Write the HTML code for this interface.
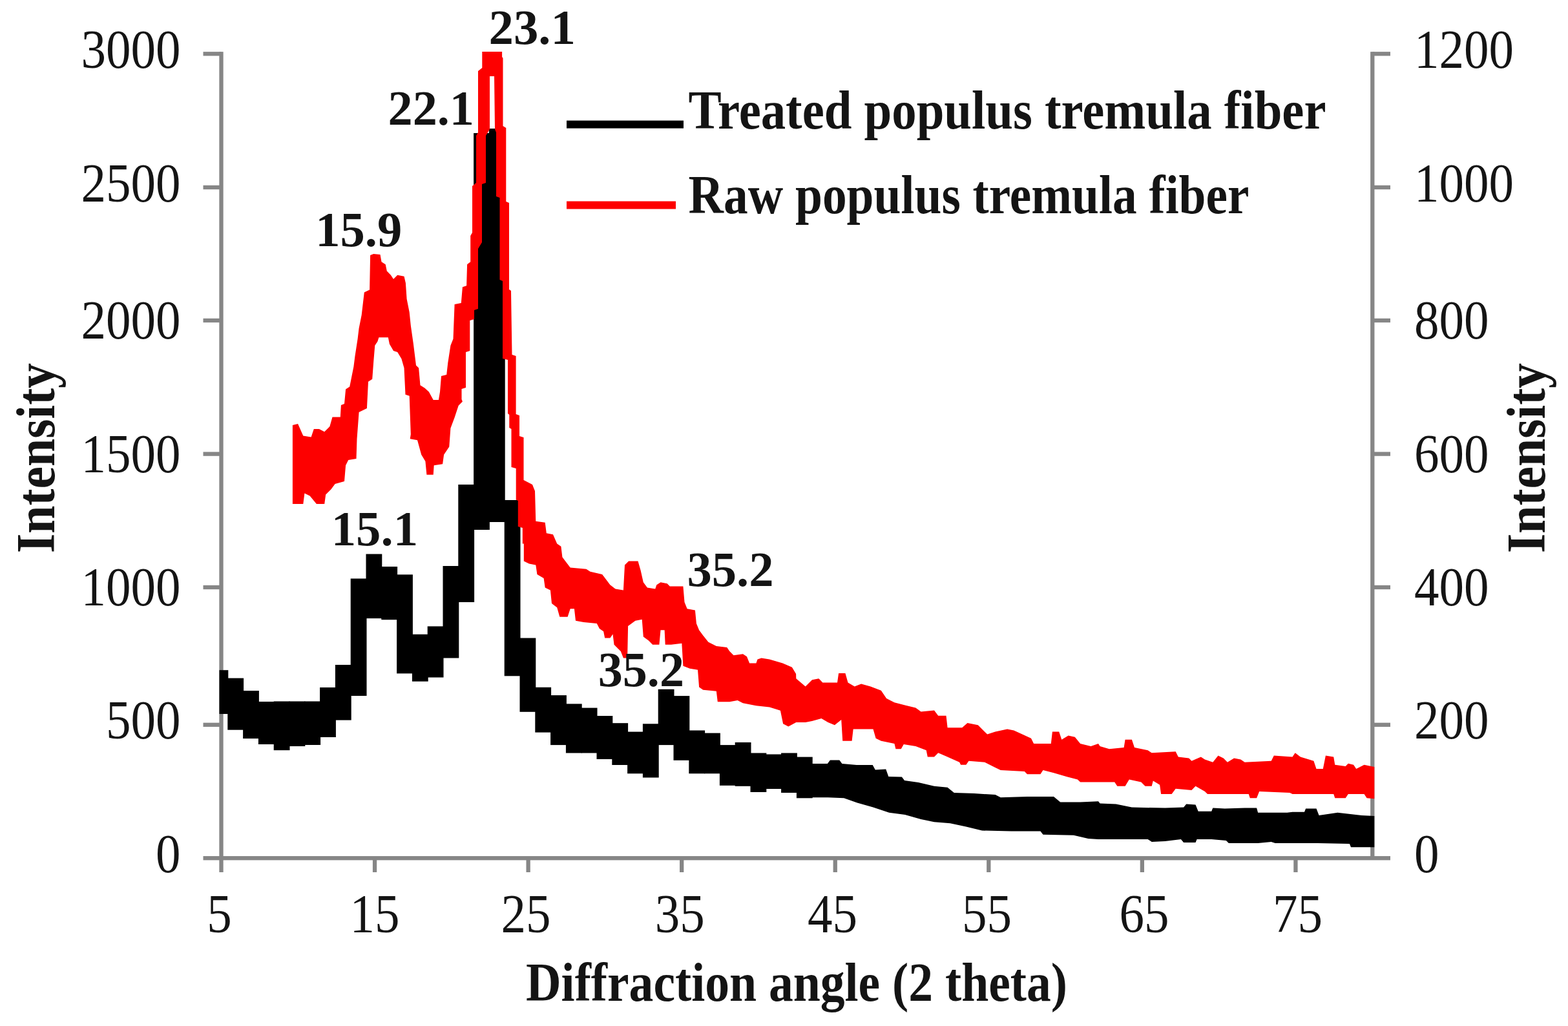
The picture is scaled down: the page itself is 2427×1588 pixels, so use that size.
<!DOCTYPE html>
<html lang="en">
<head>
<meta charset="utf-8">
<title>XRD patterns of raw and treated populus tremula fiber</title>
<style>
html,body{margin:0;padding:0;background:#fff;}
body{width:2427px;height:1588px;overflow:hidden;}
svg{display:block;}
</style>
</head>
<body>
<svg width="2427" height="1588" viewBox="0 0 2427 1588">
<rect width="2427" height="1588" fill="#fff"/>
<g fill="#868686"><rect x="339.35" y="80.15" width="6.3" height="1269.85"/><rect x="2121.15" y="80.15" width="6.3" height="1248.05"/><rect x="314.5" y="1325.05" width="1837.5" height="6.3"/><rect x="314.5" y="80.15" width="28" height="6.3"/><rect x="2124.3" y="80.15" width="27.7" height="6.3"/><rect x="314.5" y="286.85" width="28" height="6.3"/><rect x="2124.3" y="286.85" width="27.7" height="6.3"/><rect x="314.5" y="492.85" width="28" height="6.3"/><rect x="2124.3" y="492.85" width="27.7" height="6.3"/><rect x="314.5" y="699.45" width="28" height="6.3"/><rect x="2124.3" y="699.45" width="27.7" height="6.3"/><rect x="314.5" y="905.85" width="28" height="6.3"/><rect x="2124.3" y="905.85" width="27.7" height="6.3"/><rect x="314.5" y="1118.65" width="28" height="6.3"/><rect x="2124.3" y="1118.65" width="27.7" height="6.3"/><rect x="576.91" y="1328.2" width="6.3" height="21.8"/><rect x="814.47" y="1328.2" width="6.3" height="21.8"/><rect x="1052.03" y="1328.2" width="6.3" height="21.8"/><rect x="1289.59" y="1328.2" width="6.3" height="21.8"/><rect x="1527.15" y="1328.2" width="6.3" height="21.8"/><rect x="1764.71" y="1328.2" width="6.3" height="21.8"/><rect x="2002.27" y="1328.2" width="6.3" height="21.8"/></g>
<g fill="#000"><rect x="339.5" y="1037.2" width="13.8" height="67.8"/><rect x="352.3" y="1049.6" width="24.8" height="80.1"/><rect x="376.1" y="1069.1" width="24.8" height="74"/><rect x="399.9" y="1086" width="24.8" height="66"/><rect x="423.7" y="1085.5" width="24.8" height="75.7"/><rect x="447.5" y="1085.5" width="24.8" height="69.5"/><rect x="471.3" y="1085.5" width="24.8" height="67.5"/><rect x="495.1" y="1064" width="24.8" height="77"/><rect x="518.9" y="1029" width="24.8" height="85.6"/><rect x="542.7" y="895.5" width="24.8" height="181.5"/><rect x="566.5" y="857.5" width="24.8" height="99.6"/><rect x="590.3" y="877" width="24.8" height="82.2"/><rect x="614.1" y="889.3" width="24.8" height="153.1"/><rect x="637.9" y="981.8" width="24.8" height="72.9"/><rect x="661.7" y="969.4" width="24.8" height="79.1"/><rect x="685.5" y="876" width="24.8" height="142.5"/><rect x="709.3" y="750" width="24.8" height="182"/><rect x="733.1" y="206" width="24.8" height="614"/><rect x="756.9" y="199" width="24.8" height="609"/><rect x="780.7" y="774" width="24.8" height="272.3"/><rect x="804.5" y="987.5" width="24.8" height="114.3"/><rect x="828.3" y="1063.8" width="24.8" height="69.8"/><rect x="852.1" y="1076.1" width="24.8" height="77"/><rect x="875.9" y="1089.4" width="24.8" height="76.1"/><rect x="899.7" y="1095.6" width="24.8" height="69.9"/><rect x="923.5" y="1108" width="24.8" height="67"/><rect x="947.3" y="1119.2" width="24.8" height="64.8"/><rect x="971.1" y="1132.6" width="24.8" height="64.7"/><rect x="994.9" y="1120.3" width="24.8" height="83.2"/><rect x="1018.7" y="1066.8" width="24.8" height="86.3"/><rect x="1042.5" y="1077.1" width="24.8" height="99.7"/><rect x="1066.3" y="1130.5" width="24.8" height="66.8"/><rect x="1090.1" y="1134.6" width="24.8" height="62.7"/><rect x="1113.9" y="1153.1" width="24.8" height="62.7"/><rect x="1137.7" y="1149" width="24.8" height="67.8"/><rect x="1161.5" y="1165.5" width="24.8" height="60.5"/><rect x="1185.3" y="1167.5" width="24.8" height="53.5"/><rect x="1209.1" y="1165.5" width="24.8" height="61.5"/><rect x="1232.9" y="1171.6" width="24.8" height="63.7"/><polygon points="1252.9,1177.3 1256.2,1182 1280.8,1182 1284.9,1176.4 1299.3,1176.4 1303.4,1182 1326,1184 1350.7,1184 1354.8,1191.6 1371.2,1190.6 1375.3,1201.9 1395.9,1202.5 1400,1208.1 1421.4,1211 1446,1216.7 1466.6,1218.8 1476.8,1227 1507.7,1228 1540.5,1230.1 1548.8,1234.2 1589.9,1233.1 1631,1233.1 1641.2,1241.4 1672.1,1241.4 1700,1240.3 1702.6,1243.4 1727.3,1244.5 1751.9,1249.6 1803.3,1250.6 1832.1,1249.6 1836.2,1244.5 1850.5,1245.5 1854.7,1255.8 1875.2,1255.8 1877.3,1250.6 1895.8,1251.6 1926.6,1250.6 1945.1,1250.6 1947.1,1257.8 1992.3,1257.8 2000.5,1256.8 2019,1256.8 2021.1,1251.6 2037.5,1251.6 2041.6,1261.9 2070.4,1257.8 2107.4,1261.9 2127.3,1262.9 2127.3,1311.2 2091,1311.2 2088.9,1306.1 2039.6,1305.1 1973.8,1305.1 1967.7,1303 1947.1,1305.1 1901.9,1305.1 1897.8,1301 1875.2,1298.9 1852.6,1298.9 1850.5,1304 1832.1,1304 1827.9,1298.9 1803.3,1302 1782.7,1303 1776.6,1298.9 1700,1298.9 1684.4,1297.9 1661.8,1292.7 1614.5,1291.7 1610.4,1286.6 1565.2,1286.6 1520,1285.5 1495.3,1279.4 1470.7,1274.2 1446,1272.2 1425.5,1268.1 1400.8,1260.9 1376.2,1257.8 1351.5,1249.6 1326.8,1242.4 1306.3,1235.2 1281.6,1234.2 1252.9,1234.2"/></g>
<polygon fill="#fd0000" points="452.9,657.9 461.1,655.9 469.3,674.4 481.6,676.4 485.8,664.1 494,664.1 502.2,668.2 510.4,660 514.5,645.6 526.8,645.6 527.9,627.1 533,625.1 535.1,602.5 541.2,598.4 543.3,588.1 547.4,567.5 549.5,551.1 553.6,524.4 555.6,507.9 559.7,487.4 563.8,452.5 572.1,448.4 573.1,394.9 578.2,392.9 588.5,393.9 590.5,405.2 596.7,409.3 598.8,419.6 604.9,425.8 609,431.9 615.2,425.8 625.5,427.8 627.9,438.1 629.6,462.7 633.7,483.3 635.8,503.8 639.9,532.6 644,565.5 648.1,569.6 650.5,596.3 657.3,600.4 663.9,606.6 670.7,618.9 678.9,618.9 681,606.6 683,581.9 691.2,579.9 693.3,561.4 697.4,534.7 701.5,524.4 703.6,471 713.8,468.9 715.9,444.2 722.1,442.2 723.1,409.3 728.2,405.2 728.2,365 731,360 731,288 737,283 737,210 740,205 740,110 746.3,105 746.3,80 777.1,80 777.1,88 778.5,90 778.5,195 783.3,198 783.3,312 788,314 788,448 791,450 792.5,549 798.6,551 798.6,641 804,643 804,675 810.5,677 810.5,743 824,750 828,760 829.3,806.7 843.7,808.8 845.8,825.2 856,827.3 862.2,841.6 868.4,845.8 870.4,862.2 876.6,870.4 882.7,878.6 907.4,880.7 913.6,884.8 932.1,888.9 938.2,897.1 944.4,905.3 952.6,911.5 964.9,913.6 967,874.5 973.1,868.4 987.5,868.4 991.6,882.7 995.8,901.2 1001.9,909.5 1014.2,911.5 1016.3,905.3 1022.5,901.2 1032.7,903.3 1036.8,907.4 1057.4,907.4 1059.5,932.1 1063.6,942.3 1075.9,944.4 1077.9,964.9 1082.1,975.2 1088.2,983.4 1096.4,993.7 1108.8,999.9 1125.2,1001.9 1129.3,1008.1 1135.5,1014.2 1149.9,1012.2 1156,1016.3 1160.1,1026.6 1170.4,1026.6 1172.5,1020.4 1178.6,1018.4 1191,1020.4 1211.5,1026.6 1225.9,1032.7 1232.1,1043 1232.3,1050.3 1246.7,1062.6 1257,1052.3 1267.3,1050.3 1273.4,1056.4 1296,1056.4 1298.1,1042.1 1308.4,1042.1 1312.5,1056.4 1322.7,1062.6 1333,1058.5 1347.4,1062.6 1363.8,1068.8 1372.1,1081.1 1384.4,1087.3 1400.8,1091.4 1417.3,1095.5 1425.5,1101.6 1446,1099.6 1452.2,1107.8 1464.5,1107.8 1466.6,1126.3 1489.2,1126.3 1497.4,1119.1 1513.8,1122.2 1528.2,1136.6 1540.5,1132.5 1559,1128.4 1569.3,1130.4 1596,1142.7 1600.1,1151 1626.8,1151 1628.9,1132.5 1639.2,1132.5 1643.3,1144.8 1653.6,1138.6 1663.8,1140.7 1672.1,1151 1688.5,1155.1 1700,1151 1702.6,1155.1 1717,1159.2 1739.6,1157.1 1741.6,1144.8 1751.9,1144.8 1756,1157.1 1776.6,1161.2 1782.7,1165.3 1819.7,1163.3 1823.8,1171.5 1840.3,1173.6 1844.4,1177.7 1858.8,1171.5 1864.9,1175.6 1877.3,1179.7 1885.5,1169.5 1893.7,1173.6 1899.9,1179.7 1910.1,1173.6 1920.4,1175.6 1926.6,1179.7 1967.7,1177.7 1971.8,1169.5 2000.5,1171.5 2004.7,1165.3 2012.9,1171.5 2033.4,1177.7 2037.5,1190 2047.8,1190 2051.9,1169.5 2064.2,1171.5 2066.3,1183.8 2082.7,1185.9 2086.8,1181.8 2095.1,1183.8 2099.2,1190 2111.5,1183.8 2127.3,1186.9 2127.3,1236.2 2115.6,1235.2 2111.5,1229 2086.8,1229 2082.7,1235.2 2066.3,1235.2 2064.2,1229 2000.5,1229 1996.4,1227 1949.2,1224.9 1945.1,1235.2 1934.8,1235.2 1932.7,1229 1869,1229 1864.9,1224.9 1850.5,1216.7 1844.4,1222.9 1819.7,1220.8 1813.6,1229 1797.1,1229 1795.1,1214.7 1784.8,1208.5 1782.7,1216.7 1772.5,1216.7 1766.3,1210.5 1747.8,1206.4 1741.6,1216.7 1729.3,1216.7 1725.2,1210.5 1700,1210.5 1672.1,1210.5 1667.9,1206.4 1651.5,1202.3 1631,1196.2 1614.5,1192.1 1610.4,1198.2 1589.9,1198.2 1585.8,1194.1 1548.8,1192.1 1540.5,1187.9 1524.1,1179.7 1499.5,1177.7 1495.3,1183.8 1487.1,1183.8 1485.1,1179.7 1466.6,1171.5 1452.2,1165.3 1446,1171.5 1435.8,1171.5 1433.7,1161.2 1417.3,1155.1 1398.8,1152 1394.7,1159.2 1386.4,1159.2 1384.4,1151 1363.8,1146.8 1355.6,1142.7 1351.5,1128.4 1320.7,1128.4 1318.6,1146.8 1304.2,1146.8 1302.2,1114 1291.9,1122.2 1281.6,1118.1 1271.4,1111.9 1257,1116 1246.7,1118.1 1232.3,1118.1 1220.3,1124.4 1212.1,1120.3 1207.9,1099.7 1191,1094.4 1170.4,1092.3 1149.9,1088.2 1141.6,1084.1 1129.3,1086.2 1110.8,1086.2 1108.8,1069.7 1088.2,1067.7 1082.1,1063.6 1080,1036.8 1067.7,1034.8 1057.4,1030.7 1055.3,995.8 1038.9,997.8 1029.7,997.8 1028.6,975.2 1022.5,975.2 1020.4,997.8 1010.1,997.8 1004,991.6 995.8,985.5 993.7,958.8 983.4,960.8 972.1,969 971.1,1018.4 964.9,1018.4 960.8,1008.1 956.7,1004 950.5,997.8 948.5,981.4 944.4,987.5 936.2,987.5 934.1,977.3 927.9,973.1 923.8,964.9 903.3,962.9 891,960.8 888.9,942.3 882.7,942.3 878.6,954.7 866.3,954.7 862.2,940.3 854,934.1 851.9,913.6 843.7,909.5 841.6,895.1 831.4,888.9 829.3,874.5 819,872.5 810.8,868.4 810.8,841.6 808.8,841.6 808.8,817 801.8,815 801.8,775 798.7,773.6 798.7,725 791.5,723 791.5,664 788.3,662 788.3,642 786,640 786,557 778,555 778,435 773.5,433 773.5,306 768,304 768,205 766,200 765,118 758,118 758,200 752,210 752,283 746,285 746,375 740,385 740,478 734,480 734,494 727.3,496 727.3,543 721,545 721,600 714.5,602 714.5,618 715.9,621.6 709.7,627.8 703.6,646.3 697.4,662.7 695.3,691.5 687.1,703.8 685.1,718.2 671.7,720.3 670.7,734.7 660.4,734.7 658.4,714.1 652.2,703.8 646,681.2 634.7,679.2 635.8,672.3 633.7,612.7 627.5,610.7 625.5,569.6 621.4,555.2 615.2,544.9 609,542.9 602.9,532.6 600.8,522.3 586.4,522.3 584.4,528.5 580.3,534.7 578.2,560 576.2,586.7 570,590.8 567.9,631.9 555.6,638.1 552.5,679.2 551.5,710 539.2,712.1 535.1,720.3 533,744.9 518.6,749 512.5,757.3 504.2,765.5 502.2,779.9 489.9,779.9 479.6,767.5 471.4,763.4 469.3,779.9 452.9,779.9"/>
<rect x="877" y="186.6" width="181" height="12" fill="#000"/>
<rect x="877" y="311.5" width="169" height="12" fill="#fd0000"/>
<g fill="#141414" font-family="'Liberation Serif', 'Times New Roman', serif"><text x="279.5" y="105" font-size="84" textLength="154" lengthAdjust="spacingAndGlyphs" text-anchor="end">3000</text>
<text x="279.5" y="311.5" font-size="84" textLength="154" lengthAdjust="spacingAndGlyphs" text-anchor="end">2500</text>
<text x="279.5" y="524" font-size="84" textLength="154" lengthAdjust="spacingAndGlyphs" text-anchor="end">2000</text>
<text x="279.5" y="730.8" font-size="84" textLength="154" lengthAdjust="spacingAndGlyphs" text-anchor="end">1500</text>
<text x="279.5" y="937" font-size="84" textLength="154" lengthAdjust="spacingAndGlyphs" text-anchor="end">1000</text>
<text x="279.5" y="1143.3" font-size="84" textLength="115.5" lengthAdjust="spacingAndGlyphs" text-anchor="end">500</text>
<text x="279.5" y="1350" font-size="84" textLength="38.5" lengthAdjust="spacingAndGlyphs" text-anchor="end">0</text>
<text x="2189" y="105" font-size="84" textLength="154" lengthAdjust="spacingAndGlyphs" text-anchor="start">1200</text>
<text x="2189" y="311.5" font-size="84" textLength="154" lengthAdjust="spacingAndGlyphs" text-anchor="start">1000</text>
<text x="2189" y="524" font-size="84" textLength="115.5" lengthAdjust="spacingAndGlyphs" text-anchor="start">800</text>
<text x="2189" y="730.8" font-size="84" textLength="115.5" lengthAdjust="spacingAndGlyphs" text-anchor="start">600</text>
<text x="2189" y="937" font-size="84" textLength="115.5" lengthAdjust="spacingAndGlyphs" text-anchor="start">400</text>
<text x="2189" y="1143.3" font-size="84" textLength="115.5" lengthAdjust="spacingAndGlyphs" text-anchor="start">200</text>
<text x="2189" y="1350" font-size="84" textLength="38.5" lengthAdjust="spacingAndGlyphs" text-anchor="start">0</text>
<text x="339.5" y="1443" font-size="84" textLength="38.5" lengthAdjust="spacingAndGlyphs" text-anchor="middle">5</text>
<text x="580" y="1443" font-size="84" textLength="77" lengthAdjust="spacingAndGlyphs" text-anchor="middle">15</text>
<text x="814" y="1443" font-size="84" textLength="77" lengthAdjust="spacingAndGlyphs" text-anchor="middle">25</text>
<text x="1052.3" y="1443" font-size="84" textLength="77" lengthAdjust="spacingAndGlyphs" text-anchor="middle">35</text>
<text x="1288.5" y="1443" font-size="84" textLength="77" lengthAdjust="spacingAndGlyphs" text-anchor="middle">45</text>
<text x="1527.5" y="1443" font-size="84" textLength="77" lengthAdjust="spacingAndGlyphs" text-anchor="middle">55</text>
<text x="1771" y="1443" font-size="84" textLength="77" lengthAdjust="spacingAndGlyphs" text-anchor="middle">65</text>
<text x="2008.5" y="1443" font-size="84" textLength="77" lengthAdjust="spacingAndGlyphs" text-anchor="middle">75</text>
<text x="756.5" y="68.4" font-size="75.6" textLength="134.5" lengthAdjust="spacingAndGlyphs" text-anchor="start" font-weight="bold">23.1</text>
<text x="600.6" y="193.3" font-size="75.6" textLength="133.4" lengthAdjust="spacingAndGlyphs" text-anchor="start" font-weight="bold">22.1</text>
<text x="488.2" y="380.6" font-size="75.6" textLength="134.1" lengthAdjust="spacingAndGlyphs" text-anchor="start" font-weight="bold">15.9</text>
<text x="512.7" y="843.5" font-size="75.6" textLength="134.4" lengthAdjust="spacingAndGlyphs" text-anchor="start" font-weight="bold">15.1</text>
<text x="1063.5" y="906.5" font-size="75.6" textLength="134.1" lengthAdjust="spacingAndGlyphs" text-anchor="start" font-weight="bold">35.2</text>
<text x="925.7" y="1062" font-size="75.6" textLength="133.3" lengthAdjust="spacingAndGlyphs" text-anchor="start" font-weight="bold">35.2</text>
<text x="1065.5" y="198.5" font-size="85" textLength="987" lengthAdjust="spacingAndGlyphs" text-anchor="start" font-weight="bold">Treated populus tremula fiber</text>
<text x="1065.5" y="329.5" font-size="85" textLength="868" lengthAdjust="spacingAndGlyphs" text-anchor="start" font-weight="bold">Raw populus tremula fiber</text>
<text x="814" y="1549.3" font-size="85" textLength="838" lengthAdjust="spacingAndGlyphs" text-anchor="start" font-weight="bold">Diffraction angle (2 theta)</text>
<text x="0" y="0" font-size="85" textLength="294" lengthAdjust="spacingAndGlyphs" text-anchor="middle" font-weight="bold" transform="translate(83.5 709) rotate(-90)">Intensity</text>
<text x="0" y="0" font-size="85" textLength="294" lengthAdjust="spacingAndGlyphs" text-anchor="middle" font-weight="bold" transform="translate(2390.7 709) rotate(-90)">Intensity</text></g>
</svg>
</body>
</html>
